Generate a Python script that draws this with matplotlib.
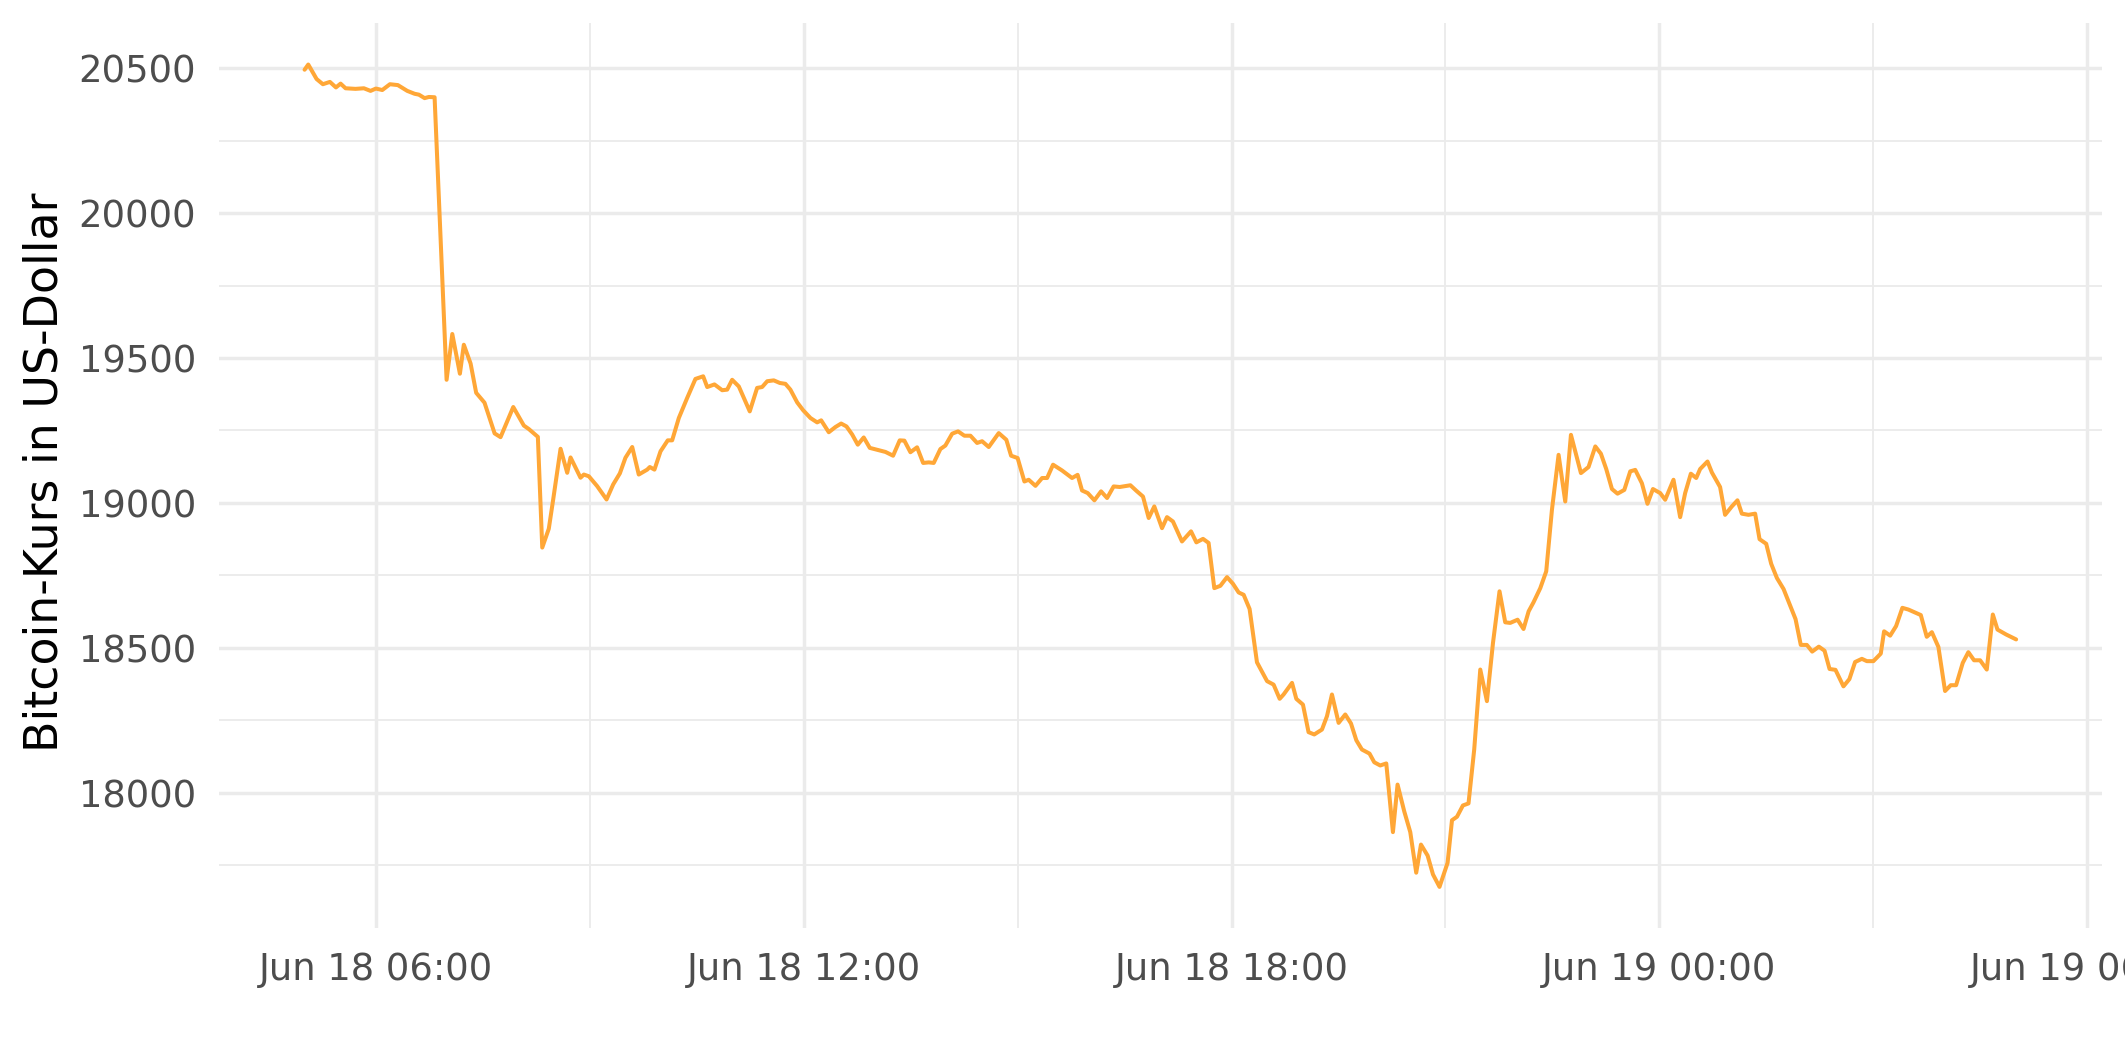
import numpy as np
import pandas as pd
import matplotlib
matplotlib.use("Agg")
import matplotlib.pyplot as plt
import matplotlib.dates as mdates

# Minutes after 2022-06-18 06:00
minutes_after_0600 = [
    -60.0, -56.9, -49.9, -44.6, -38.7, -33.6, -29.7, -25.5, -17.1, -10.1, -4.5, 0.0,
    5.4, 11.8, 18.5, 26.4, 32.6, 36.2, 41.0, 44.6, 49.4, 59.5, 64.3, 70.7, 74.0, 79.7,
    84.4, 91.4, 99.9, 104.9,
    115.6, 124.5, 128.7, 136.3, 140.0, 145.5, 149.2, 155.4, 161.0, 163.8, 172.2, 175.0,
    179.2, 186.2, 194.1, 199.7, 205.3, 210.0, 215.7, 221.2, 228.3, 230.5, 234.4, 239.5,
    245.6, 249.3, 254.9, 261.9, 268.9, 275.4, 278.8, 284.9, 291.4, 295.6, 299.8, 305.4,
    314.6,
    320.8, 325.0, 329.3, 334.8, 339.9, 344.6, 348.8, 354.5, 359.5, 365.7, 371.3, 374.7,
    381.1, 386.7, 391.5, 396.0, 400.8, 405.5, 410.5, 415.6, 423.1, 428.8, 435.2, 440.8,
    444.7, 449.8, 455.4, 460.5, 465.2, 469.4, 475.0, 479.2, 484.9, 489.9, 495.2, 500.3,
    505.9, 510.1, 515.7, 524.1, 530.5, 534.5,
    540.0, 545.7, 549.3, 555.0, 560.6, 564.8, 569.8, 577.4, 585.8, 590.5, 594.2, 599.0,
    604.6, 610.2, 615.3, 620.8, 625.9, 634.9, 639.9, 645.5, 650.3, 655.0, 661.5, 665.7,
    670.7, 678.3, 685.9, 690.4, 696.0, 700.7, 705.5, 710.6, 716.2, 721.2, 726.0, 730.2,
    735.2,
    741.4, 749.9, 755.4, 760.5, 763.8, 770.9, 774.5, 780.1, 784.8, 789.6, 796.1, 800.3,
    804.5, 810.1, 815.7, 820.5, 825.0, 829.7, 836.1, 840.1, 845.1, 850.2, 855.8, 859.7,
    865.3, 870.4, 875.4, 879.4, 885.0, 889.5, 895.0, 901.8, 905.5, 909.7, 914.7, 919.4,
    924.2, 929.3, 934.9, 940.0, 945.5, 950.3, 954.5,
    960.7, 965.7, 970.0, 974.1, 979.8, 984.8, 989.6, 995.2, 1000.8, 1005.6, 1014.0,
    1020.4, 1026.1, 1030.8, 1035.3, 1040.1, 1044.8, 1050.5, 1055.5, 1059.7, 1065.3,
    1070.0, 1074.6, 1080.7, 1084.9, 1091.9, 1097.5, 1101.7, 1106.5, 1111.0, 1114.3,
    1120.5, 1124.2, 1131.1, 1135.3, 1141.0, 1145.7, 1149.4, 1155.0, 1160.6,
    1164.3, 1169.9, 1174.1, 1178.9, 1184.5, 1189.5, 1194.6, 1199.0, 1204.1, 1208.6,
    1214.2, 1219.0, 1223.2, 1228.2, 1234.9, 1239.9,
    1244.7, 1250.4, 1254.6, 1260.1, 1266.3, 1269.1, 1274.2, 1279.2, 1284.5, 1289.6,
    1300.0, 1305.0, 1309.3, 1314.8, 1320.4, 1325.2, 1329.7, 1335.3, 1340.0, 1344.8,
    1349.9, 1355.5, 1360.6, 1364.5, 1371.8, 1380.2,
]

price_usd = [
    20495, 20513, 20463, 20445, 20453, 20434, 20447, 20431, 20429, 20431, 20422, 20430,
    20425, 20445, 20442, 20422, 20412, 20409, 20397, 20401, 20400, 19425, 19583, 19446,
    19546, 19481, 19380, 19346, 19240, 19227,
    19331, 19267, 19255, 19228, 18846, 18911, 19012, 19187, 19104, 19157, 19087, 19098,
    19092, 19058, 19012, 19064, 19102, 19156, 19193, 19098, 19115, 19124, 19115, 19178,
    19216, 19216, 19293, 19362, 19428, 19437, 19400, 19409, 19389, 19391, 19425, 19402,
    19316,
    19397, 19400, 19420, 19423, 19414, 19411, 19391, 19347, 19320, 19293, 19278, 19285,
    19244, 19262, 19274, 19264, 19236, 19201, 19226, 19190, 19182, 19176, 19163, 19216,
    19215, 19175, 19192, 19138, 19140, 19138, 19186, 19198, 19239, 19247, 19232, 19232,
    19207, 19213, 19193, 19241, 19218, 19163,
    19155, 19074, 19080, 19059, 19086, 19086, 19132, 19112, 19086, 19097, 19043, 19034,
    19009, 19040, 19017, 19057, 19055, 19061, 19042, 19022, 18948, 18988, 18913, 18951,
    18936, 18867, 18902, 18864, 18876, 18862, 18706, 18714, 18744, 18721, 18691, 18683,
    18634,
    18450, 18385, 18373, 18324, 18339, 18379, 18324, 18304, 18209, 18201, 18218, 18264,
    18339, 18241, 18270, 18239, 18181, 18149, 18135, 18105, 18094, 18101, 17864, 18028,
    17936, 17864, 17724, 17821, 17783, 17718, 17675, 17758, 17905, 17917, 17956, 17963,
    18149, 18425, 18316, 18517, 18695, 18588, 18586,
    18597, 18565, 18626, 18657, 18706, 18764, 18976, 19166, 19005, 19235, 19103,
    19124, 19195, 19170, 19117, 19048, 19032, 19045, 19109, 19114, 19068,
    18997, 19048, 19034, 19011, 19080, 18951, 19034, 19101, 19086, 19117,
    19143, 19105, 19055, 18959, 18988, 19009, 18963, 18959, 18963,
    18875, 18859, 18790, 18741, 18703, 18652, 18599, 18510, 18510, 18487,
    18504, 18490, 18427, 18424, 18367, 18392,
    18451, 18462, 18454, 18454, 18480, 18557, 18542, 18575, 18638, 18632,
    18613, 18538, 18554, 18503, 18351, 18371, 18371, 18448, 18485, 18457,
    18457, 18425, 18615, 18563, 18546, 18529,
]

y_ticks = [18000, 18500, 19000, 19500, 20000, 20500]
y_minor = [17750, 18250, 18750, 19250, 19750, 20250]
x_ticks = ["2022-06-18 06:00", "2022-06-18 12:00", "2022-06-18 18:00",
           "2022-06-19 00:00", "2022-06-19 06:00"]
x_minor = ["2022-06-18 09:00", "2022-06-18 15:00", "2022-06-18 21:00",
           "2022-06-19 03:00"]
y_label = "Bitcoin-Kurs in US-Dollar"

base = pd.Timestamp("2022-06-18 06:00")
times = base + pd.to_timedelta(np.array(minutes_after_0600), unit="m")

plt.rcParams['font.family'] = ['DejaVu Sans']

W, H, DPI = 2125, 1062, 200
fig = plt.figure(figsize=(W / DPI, H / DPI), dpi=DPI)
ax = fig.add_axes([219 / W, 1 - 928 / H, (2101.7 - 219) / W, (928 - 23.4) / H])

grid_col = "#EBEBEB"
ax.plot(times, price_usd, color="#FFA737", lw=1.45, solid_joinstyle="round",
        solid_capstyle="round", zorder=3)
ax.margins(x=0.05, y=0.05)

ax.set_yticks(y_ticks)
ax.set_yticks(y_minor, minor=True)
ax.set_xticks(pd.to_datetime(x_ticks))
ax.set_xticks(pd.to_datetime(x_minor), minor=True)
ax.xaxis.set_major_formatter(mdates.DateFormatter("%b %d %H:%M"))

ax.grid(which="major", color=grid_col, lw=1.25, zorder=0)
ax.grid(which="minor", color=grid_col, lw=0.65, zorder=0)
ax.set_axisbelow(True)
for s in ax.spines.values():
    s.set_visible(False)
ax.tick_params(which="both", length=0)
ax.tick_params(axis="both", which="major", labelsize=13.3, labelcolor="#4D4D4D", pad=8.3)

fig.text(45 / W, 1 - 472.5 / H, y_label, rotation=90, ha="center",
         va="center", fontsize=16.5, color="black")

fig.savefig("out.png", dpi=DPI, facecolor="white")
